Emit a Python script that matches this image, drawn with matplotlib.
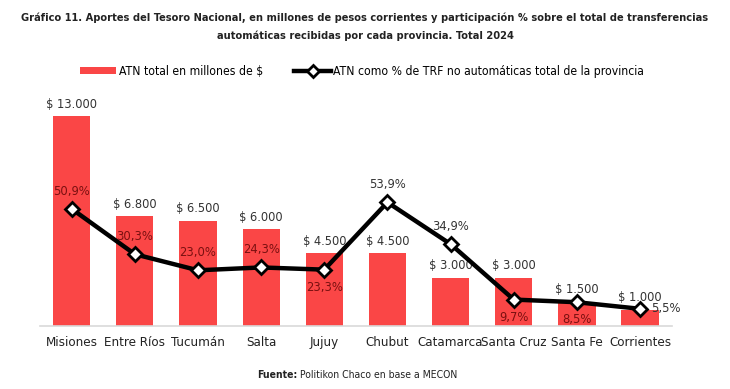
import matplotlib
matplotlib.use("Agg")
import matplotlib.pyplot as plt
from matplotlib.lines import Line2D
from matplotlib.patches import Patch
from matplotlib.text import Annotation

plt.rcParams['font.family'] = ['DejaVu Sans']
plt.rcParams['font.stretch'] = 'condensed'

provincias = ["Misiones", "Entre Ríos", "Tucumán", "Salta", "Jujuy", "Chubut",
              "Catamarca", "Santa Cruz", "Santa Fe", "Corrientes"]
atn_millones = [13000, 6800, 6500, 6000, 4500, 4500, 3000, 3000, 1500, 1000]
atn_pct = [50.9, 30.3, 23.0, 24.3, 23.3, 53.9, 34.9, 9.7, 8.5, 5.5]
bar_labels = ["$ 13.000", "$ 6.800", "$ 6.500", "$ 6.000", "$ 4.500", "$ 4.500",
              "$ 3.000", "$ 3.000", "$ 1.500", "$ 1.000"]
pct_labels = ["50,9%", "30,3%", "23,0%", "24,3%", "23,3%", "53,9%",
              "34,9%", "9,7%", "8,5%", "5,5%"]

pct_pos = ["above", "above", "above", "above", "below", "above",
           "above", "below", "below", "right"]
pct_col = ["#7a1010", "#7a1010", "#7a1010", "#7a1010", "#7a1010", "#333333",
           "#333333", "#7a1010", "#7a1010", "#333333"]

RED = "#FA4646"

fig = plt.figure(figsize=(7.3, 3.89), dpi=100)
ax = fig.add_axes([0.055, 0.162, 0.865, 0.581])
x = list(range(len(provincias)))
ax.bar(x, atn_millones, width=0.59, color=RED, zorder=2)
ax.set_xlim(-0.5, len(provincias) - 0.5)
ax.set_ylim(0, 14000)
for xi, v, lab in zip(x, atn_millones, bar_labels):
    ax.annotate(lab, (xi, v), xytext=(0, 4), textcoords="offset points",
                ha="center", va="bottom", fontsize=9.2, color="#333333")
ax.set_yticks([])
for s in ["top", "right", "left"]:
    ax.spines[s].set_visible(False)
ax.spines["bottom"].set_color("#d9d9d9")
ax.spines["bottom"].set_linewidth(1.2)
ax.set_xticks(x)
ax.set_xticklabels(provincias, fontsize=9.5, color="#222222")
ax.tick_params(axis="x", length=0, pad=7)

ax2 = ax.twinx()
ax2.set_ylim(-2.3, 100.4)
ax2.plot(x, atn_pct, color="black", lw=3.2, marker="D", markersize=7,
         markerfacecolor="white", markeredgecolor="black", markeredgewidth=2, zorder=3)
for xi, v, lab, pos, c in zip(x, atn_pct, pct_labels, pct_pos, pct_col):
    if pos == "above":
        off, ha, va = (0, 8), "center", "bottom"
    elif pos == "below":
        off, ha, va = (0, -8), "center", "top"
    else:
        off, ha, va = (8, 0), "left", "center"
    ax2.annotate(lab, (xi, v), xytext=off, textcoords="offset points",
                 ha=ha, va=va, fontsize=9.3, color=c)
ax2.set_yticks([])
for s in ["top", "right", "left", "bottom"]:
    ax2.spines[s].set_visible(False)

fig.text(0.5, 0.955, "Gráfico 11. Aportes del Tesoro Nacional, en millones de pesos corrientes y participación % sobre el total de transferencias",
         ha="center", va="center", fontsize=7.9, fontweight="bold", color="#222222")
fig.text(0.5, 0.908, "automáticas recibidas por cada provincia. Total 2024",
         ha="center", va="center", fontsize=7.9, fontweight="bold", color="#222222")

handles = [Patch(facecolor=RED, edgecolor="none"),
           Line2D([0], [0], color="black", lw=3.2, marker="D", markersize=6,
                  markerfacecolor="white", markeredgecolor="black", markeredgewidth=2)]
fig.legend(handles, ["ATN total en millones de $",
                     "ATN como % de TRF no automáticas total de la provincia"],
           loc="center", bbox_to_anchor=(0.496, 0.817), ncol=2, frameon=False,
           fontsize=8.7, handlelength=3, handleheight=0.5, columnspacing=2.6, handletextpad=0.2)

t1 = fig.text(0.352, 0.035, "Fuente:", ha="left", va="center", fontsize=7.5,
              fontweight="bold", color="#222222")
fig.add_artist(Annotation(" Politikon Chaco en base a MECON", xy=(1, 0.5), xycoords=t1,
                          ha="left", va="center", fontsize=7.5, color="#222222"))
fig.savefig("out.png", dpi=100)
